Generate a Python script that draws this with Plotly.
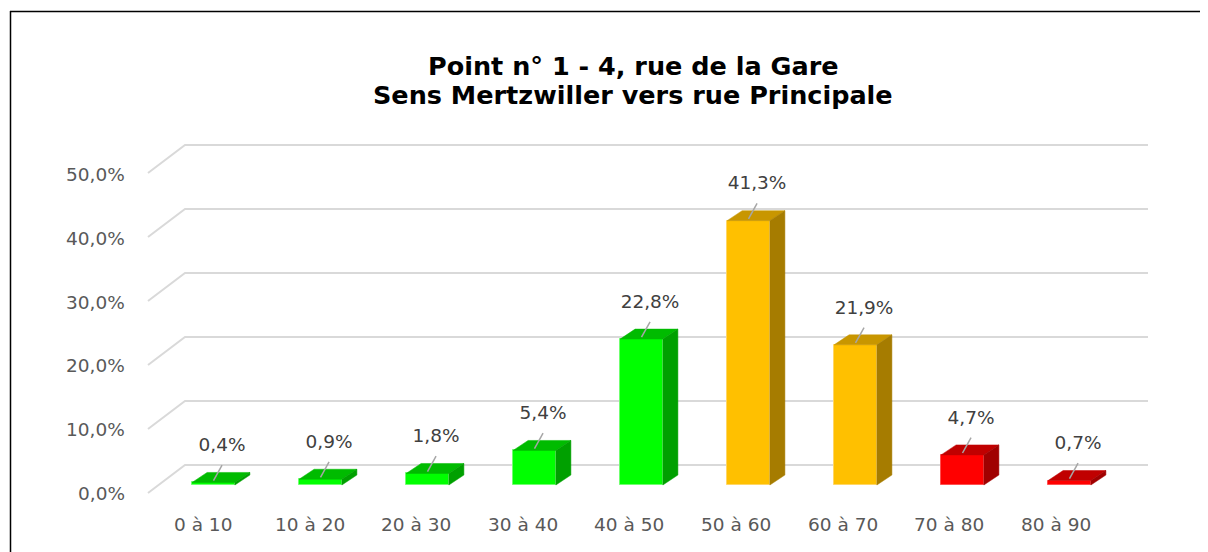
import plotly.graph_objects as go

# ---------------- data ----------------
categories = ["0 à 10", "10 à 20", "20 à 30", "30 à 40", "40 à 50",
              "50 à 60", "60 à 70", "70 à 80", "80 à 90"]
values = [0.4, 0.9, 1.8, 5.4, 22.8, 41.3, 21.9, 4.7, 0.7]
value_labels = ["0,4%", "0,9%", "1,8%", "5,4%", "22,8%", "41,3%", "21,9%", "4,7%", "0,7%"]
bands = ["green", "green", "green", "green", "green", "orange", "orange", "red", "red"]
tick_values = [0, 10, 20, 30, 40, 50]
tick_labels = ["0,0%", "10,0%", "20,0%", "30,0%", "40,0%", "50,0%"]
title_lines = ["Point n° 1 - 4, rue de la Gare", "Sens Mertzwiller vers rue Principale"]

# ---------------- styles ----------------
FRONT = {"green": "#00FF00", "orange": "#FFC000", "red": "#FF0000"}
TOP = {"green": "#00BB00", "orange": "#C89600", "red": "#C00000"}
SIDE = {"green": "#00A000", "orange": "#A67C00", "red": "#A00000"}
EDGE = {"green": "#70FF70", "orange": "#FFD666", "red": "#FF5050"}

PAGE_W, PAGE_H = 1208, 552
OFF = 8                            # browser body margin
W, H = PAGE_W - OFF, PAGE_H - OFF  # figure size
X0, XS = 213.5, 107.0      # page pixel of first bar centre, pixels per category
Y0, YS = 485.0, 6.4        # page pixel of bar baseline, pixels per percent

def px_x(p):
    return (p - X0) / XS

def px_y(p):
    return (Y0 - p) / YS

def paper_x(p):
    return (p - OFF) / W

def paper_y(p):
    return 1 - (p - OFF) / H

HALF = 0.2                 # half bar width (categories)
DDX = 15 / XS              # bar depth in x
DDY = 10 / YS              # bar depth in y
BACK_DX, BACK_DY = px_x(185), 20 / YS
FRONT_DX, FRONT_DY = px_x(148), -8 / YS
RIGHT_X = px_x(1148)

idx = list(range(len(categories)))

fig = go.Figure()

# front faces
fig.add_trace(go.Bar(
    x=idx, y=values, width=2 * HALF,
    marker=dict(color=[FRONT[b] for b in bands],
                line=dict(color=[EDGE[b] for b in bands], width=1)),
    hoverinfo="skip", showlegend=False))

# top and side faces
for i, v, b in zip(idx, values, bands):
    xl, xr = i - HALF, i + HALF
    fig.add_trace(go.Scatter(
        x=[xl, xr, xr + DDX, xl + DDX, xl], y=[v, v, v + DDY, v + DDY, v],
        fill="toself", fillcolor=TOP[b], mode="lines",
        line=dict(color=TOP[b], width=0.5), hoverinfo="skip", showlegend=False))
    fig.add_trace(go.Scatter(
        x=[xr, xr + DDX, xr + DDX, xr, xr], y=[0, DDY, v + DDY, v, 0],
        fill="toself", fillcolor=SIDE[b], mode="lines",
        line=dict(color=SIDE[b], width=0.5), hoverinfo="skip", showlegend=False))

# leader lines
lx, ly = [], []
for i, v in zip(idx, values):
    lx += [i + 0.0, i + 0.08, None]
    ly += [v + 0.3, v + 2.7, None]
fig.add_trace(go.Scatter(x=lx, y=ly, mode="lines",
                         line=dict(color="#A6A6A6", width=1.5),
                         hoverinfo="skip", showlegend=False))

# data labels
fig.add_trace(go.Scatter(
    x=[i + 0.08 for i in idx], y=[v + 5.6 for v in values],
    mode="text", text=value_labels, textposition="middle center",
    textfont=dict(family="DejaVu Sans", size=18.5, color="#404040"),
    hoverinfo="skip", showlegend=False))

# gridlines (floor-to-back-wall)
shapes = []
for t in tick_values:
    path = (f"M {FRONT_DX},{t + FRONT_DY} L {BACK_DX},{t + BACK_DY} "
            f"L {RIGHT_X},{t + BACK_DY}")
    shapes.append(dict(type="path", path=path, xref="x", yref="y",
                       line=dict(color="#D9D9D9", width=2), layer="below"))

# chart frame (left and top edges visible)
shapes.append(dict(type="line", xref="paper", yref="paper",
                   x0=paper_x(10.5), x1=paper_x(10.5), y0=paper_y(11), y1=paper_y(PAGE_H),
                   line=dict(color="black", width=1.5)))
shapes.append(dict(type="line", xref="paper", yref="paper",
                   x0=paper_x(10), x1=paper_x(PAGE_W), y0=paper_y(11.5), y1=paper_y(11.5),
                   line=dict(color="black", width=1.5)))

annotations = []
# y tick labels
for t, lab in zip(tick_values, tick_labels):
    annotations.append(dict(x=px_x(127), y=px_y(493.5 - 6.38 * t), text=lab,
                            xref="x", yref="y", xanchor="right", yanchor="middle",
                            showarrow=False,
                            font=dict(family="DejaVu Sans", size=18.5, color="#595959")))
# category labels
for i, c in zip(idx, categories):
    annotations.append(dict(x=px_x(203 + 106.6 * i), y=px_y(524), text=c,
                            xref="x", yref="y", xanchor="center", yanchor="middle",
                            showarrow=False,
                            font=dict(family="DejaVu Sans", size=18.5, color="#595959")))
# title
for k, line in enumerate(title_lines):
    annotations.append(dict(x=paper_x(633), y=paper_y(66 + 29 * k), text=f"<b>{line}</b>",
                            xref="paper", yref="paper", xanchor="center", yanchor="middle",
                            showarrow=False,
                            font=dict(family="DejaVu Sans", size=25.5, color="black")))

fig.update_layout(
    width=W, height=H, autosize=False,
    margin=dict(l=0, r=0, t=0, b=0),
    paper_bgcolor="white", plot_bgcolor="white",
    xaxis=dict(range=[px_x(OFF), px_x(PAGE_W)], visible=False, fixedrange=True),
    yaxis=dict(range=[px_y(PAGE_H), px_y(OFF)], visible=False, fixedrange=True),
    shapes=shapes, annotations=annotations,
    showlegend=False, bargap=0,
)

fig.write_html("out.html")
